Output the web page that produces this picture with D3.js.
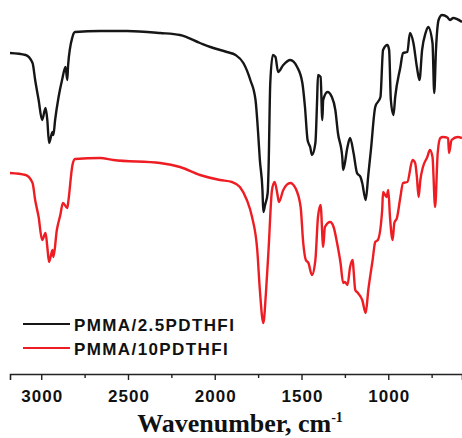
<!DOCTYPE html>
<html>
<head>
<meta charset="utf-8">
<script src="https://cdn.jsdelivr.net/npm/d3@7"></script>
<style>
  body { margin: 0; background: #fff; }
  svg { display: block; }
</style>
</head>
<body>
<svg id="chart" width="462" height="438"></svg>
<script>
const width = 462;
const height = 438;

// FTIR spectra, wavenumber (cm-1) vs transmittance (arbitrary units, stacked)
const blackWn = [3180, 3090, 3050, 3035, 3015, 2995, 2975, 2965, 2955, 2935, 2930, 2920, 2900, 2880, 2860, 2850, 2845, 2820, 2805, 2660,
  2505, 2315, 2200, 2085, 2025, 1930, 1880, 1835, 1795, 1765, 1750, 1740, 1725, 1720, 1710, 1695, 1690, 1680, 1665, 1650,
  1635, 1605, 1565, 1525, 1495, 1480, 1465, 1460, 1450, 1440, 1420, 1410, 1405, 1390, 1380, 1375, 1350, 1325, 1305, 1290,
  1265, 1260, 1235, 1220, 1200, 1180, 1160, 1150, 1130, 1115, 1100, 1075, 1045, 1030, 1005, 995, 985, 970, 960, 930,
  915, 890, 875, 855, 835, 820, 805, 785, 770, 745, 735, 725, 710, 690, 660, 645, 625, 575];
const blackT = [31.7, 31.5, 30.7, 29.0, 27.0, 25.0, 26.2, 25.0, 22.7, 23.8, 23.5, 25.0, 27.3, 29.0, 30.3, 29.0, 30.5, 33.3, 33.8, 33.9,
  33.9, 33.7, 33.5, 32.7, 32.3, 31.8, 31.5, 30.7, 29.0, 27.0, 23.7, 21.0, 18.0, 15.8, 16.5, 17.7, 20.0, 28.7, 31.5, 31.3,
  29.8, 30.5, 31.0, 30.3, 28.7, 26.3, 23.0, 22.7, 22.3, 21.5, 22.7, 27.0, 29.5, 29.3, 25.0, 27.0, 27.8, 27.3, 26.0, 23.7,
  21.3, 20.0, 22.3, 23.2, 21.7, 19.7, 19.3, 18.7, 17.0, 19.5, 22.0, 26.3, 27.3, 32.0, 32.5, 32.0, 27.0, 25.5, 27.3, 30.3,
  31.7, 31.8, 33.7, 32.7, 30.3, 29.0, 32.0, 33.7, 34.3, 32.7, 27.7, 32.0, 35.0, 35.5, 35.3, 35.0, 35.2, 34.8];

const redWn = [3180, 3090, 3050, 3035, 3015, 2995, 2975, 2965, 2955, 2935, 2930, 2910, 2890, 2875, 2850, 2845, 2820, 2805, 2660, 2585,
  2315, 2200, 2085, 1970, 1900, 1855, 1815, 1785, 1755, 1740, 1720, 1705, 1690, 1670, 1655, 1640, 1630, 1605, 1565, 1535,
  1505, 1490, 1475, 1460, 1440, 1420, 1405, 1390, 1375, 1365, 1335, 1315, 1295, 1275, 1260, 1250, 1235, 1220, 1205, 1200,
  1190, 1175, 1150, 1130, 1115, 1090, 1075, 1060, 1035, 1030, 1010, 1000, 990, 975, 965, 950, 930, 915, 890, 860,
  845, 835, 825, 815, 800, 775, 760, 745, 730, 715, 700, 685, 655, 650, 635, 600, 575];
const redT = [19.7, 19.5, 18.7, 17.0, 15.3, 13.0, 13.7, 12.3, 10.8, 12.0, 11.3, 14.0, 15.5, 16.7, 16.2, 16.7, 20.5, 21.1, 21.2, 21.0,
  20.7, 20.3, 19.5, 19.0, 18.8, 18.3, 17.0, 15.3, 12.0, 8.0, 4.7, 7.7, 12.0, 18.0, 18.8, 17.7, 16.8, 18.0, 18.7, 18.2,
  16.3, 12.7, 11.0, 10.7, 9.5, 11.0, 15.3, 16.5, 12.3, 14.3, 14.8, 14.3, 12.7, 10.7, 8.7, 8.8, 8.5, 10.3, 11.0, 10.0,
  8.0, 7.7, 7.0, 5.7, 8.0, 11.0, 12.8, 13.0, 16.0, 17.8, 17.3, 18.0, 15.3, 13.0, 14.7, 15.2, 17.3, 18.7, 18.8, 21.0,
  20.7, 19.3, 17.3, 19.0, 20.3, 21.3, 22.0, 21.3, 16.3, 21.7, 23.2, 23.3, 23.2, 21.7, 23.0, 23.3, 23.2];

const seriesNames = ["PMMA/2.5PDTHFI", "PMMA/10PDTHFI"];
const seriesColors = ["#161616", "#ee1d23"];
const majorTicks = [3000, 2500, 2000, 1500, 1000];
const minorTicks = [3250, 2750, 2250, 1750, 1250, 750];

const axisY = 374;

const svg = d3.select("#chart");

const x = d3.scaleLinear().domain([3180, 575]).range([10, 462]);
const y = d3.scaleLinear().domain([0, 37]).range([370, 0]);

const line = d3.line()
  .x(d => x(d[0]))
  .y(d => y(d[1]))
  .curve(d3.curveMonotoneX);

const series = [
  d3.zip(blackWn, blackT),
  d3.zip(redWn, redT)
];

svg.selectAll(".spectrum")
  .data(series)
  .join("path")
  .attr("class", "spectrum")
  .attr("fill", "none")
  .attr("stroke", (d, i) => seriesColors[i])
  .attr("stroke-width", 2.4)
  .attr("stroke-linejoin", "round")
  .attr("d", line);

// bottom axis
const xAxis = d3.axisBottom(x)
  .tickValues(majorTicks)
  .tickSize(6)
  .tickPadding(10)
  .tickFormat(d3.format("d"));

const gx = svg.append("g")
  .attr("transform", `translate(0,${axisY})`)
  .call(xAxis);

gx.select(".domain").attr("stroke", "#222").attr("stroke-width", 1.6);
gx.selectAll(".tick line").attr("stroke", "#222").attr("stroke-width", 1.4);
gx.selectAll(".tick text")
  .attr("fill", "#111")
  .attr("dx", "0.5px")
  .style("font-family", "'Liberation Sans', Arial, sans-serif")
  .style("font-weight", "bold")
  .style("font-size", "17px")
  .style("letter-spacing", "1px");

const gMinor = svg.append("g")
  .attr("transform", `translate(0,${axisY})`)
  .call(d3.axisBottom(x).tickValues(minorTicks).tickSize(4).tickFormat(""));
gMinor.select(".domain").remove();
gMinor.selectAll(".tick line").attr("stroke", "#222").attr("stroke-width", 1.4);

// axis title
const title = svg.append("text")
  .attr("x", 240)
  .attr("y", 432)
  .attr("text-anchor", "middle")
  .attr("fill", "#111")
  .style("font-family", "'Liberation Serif', 'Times New Roman', serif")
  .style("font-weight", "bold")
  .style("font-size", "26px");
title.append("tspan").text("Wavenumber, cm");
title.append("tspan")
  .attr("dy", -10)
  .style("font-size", "14px")
  .text("-1");

// legend
const legend = svg.append("g");
const legendRows = legend.selectAll("g")
  .data(seriesNames)
  .join("g")
  .attr("transform", (d, i) => `translate(0,${324 + i * 24})`);

legendRows.append("line")
  .attr("x1", 23).attr("x2", 70)
  .attr("stroke", (d, i) => seriesColors[i])
  .attr("stroke-width", 2);

legendRows.append("text")
  .attr("x", 74)
  .attr("y", 6.5)
  .attr("fill", "#111")
  .style("font-family", "'Liberation Sans', Arial, sans-serif")
  .style("font-weight", "bold")
  .style("font-size", "17px")
  .style("letter-spacing", "1.4px")
  .text(d => d);
</script>
</body>
</html>
